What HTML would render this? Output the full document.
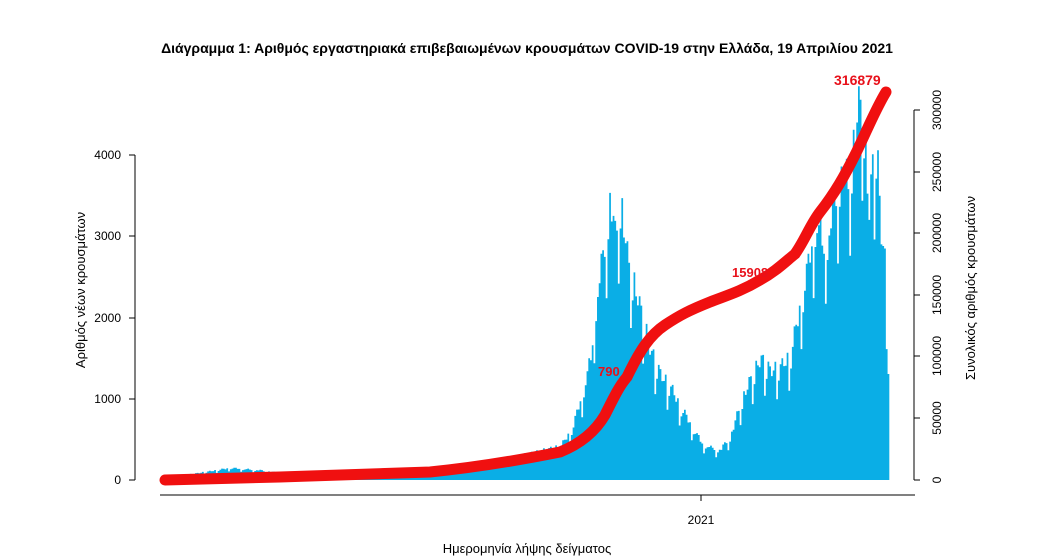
<!DOCTYPE html>
<html><head><meta charset="utf-8"><style>
body{margin:0;background:#fff;width:1054px;height:558px;overflow:hidden}
svg{display:block;font-family:"Liberation Sans","DejaVu Sans",sans-serif}
</style></head><body>
<svg id="s" width="1054" height="558" viewBox="0 0 1054 558">
<text x="527" y="53" text-anchor="middle" font-size="14" font-weight="bold">Διάγραμμα 1: Αριθμός εργαστηριακά επιβεβαιωμένων κρουσμάτων COVID-19 στην Ελλάδα, 19 Απριλίου 2021</text>
<g id="bars"></g>
<g id="line"></g>
<g stroke="#000" stroke-width="1" fill="none">
<path d="M135,155V480 M129,155H135 M129,236H135 M129,318H135 M129,399H135 M129,480H135"/>
<path d="M160,495H915 M701,495V501"/>
<path d="M914,110V480 M914,110H920 M914,172H920 M914,233H920 M914,295H920 M914,356H920 M914,418H920 M914,480H920"/>
</g>
<g font-size="12" text-anchor="end">
<text x="121" y="159">4000</text><text x="121" y="240">3000</text><text x="121" y="322">2000</text><text x="121" y="403">1000</text><text x="121" y="484">0</text>
</g>
<text x="701" y="524" font-size="12" text-anchor="middle">2021</text>
<g font-size="12" text-anchor="middle">
<text transform="translate(941,110) rotate(-90)">300000</text>
<text transform="translate(941,172) rotate(-90)">250000</text>
<text transform="translate(941,233) rotate(-90)">200000</text>
<text transform="translate(941,295) rotate(-90)">150000</text>
<text transform="translate(941,356) rotate(-90)">100000</text>
<text transform="translate(941,418) rotate(-90)">50000</text>
<text transform="translate(941,480) rotate(-90)">0</text>
</g>
<text transform="translate(975,288) rotate(-90)" font-size="13" text-anchor="middle">Συνολικός αριθμός κρουσμάτων</text>
<text transform="translate(85,290) rotate(-90)" font-size="13" text-anchor="middle">Αριθμός νέων κρουσμάτων</text>
<text x="527" y="553" font-size="13" text-anchor="middle">Ημερομηνία λήψης δείγματος</text>
<g fill="#e8101a" font-weight="bold">
<text x="834" y="85" font-size="14">316879</text>
<text x="732" y="277" font-size="13">15908</text>
<text x="598" y="376" font-size="13">790</text>
</g>
</svg>
<script>
var K=[[162,20],[200,90],[230,150],[260,120],[300,50],[360,40],[420,60],[440,120],[480,200],[520,300],[560,420],[572,650],[582,1100],[590,1500],[595,2200],[600,2600],[605,3000],[609,3600],[614,3000],[620,3550],[626,2800],[632,2500],[640,2100],[650,1600],[660,1300],[670,1150],[680,900],[690,700],[700,480],[710,400],[720,380],[730,550],[740,950],[750,1250],[760,1500],[770,1350],[780,1400],[790,1550],[800,2200],[808,2700],[815,3300],[822,2900],[830,3200],[840,3900],[848,3700],[855,4400],[862,4800],[868,3300],[875,4300],[881,3000],[885,2600],[888,1300]];
function f(x){for(var i=0;i<K.length-1;i++){if(x<=K[i+1][0]){var t=(x-K[i][0])/(K[i+1][0]-K[i][0]);return K[i][1]+t*(K[i+1][1]-K[i][1]);}}return K[K.length-1][1];}
var ns="http://www.w3.org/2000/svg",d="M162,480",w=1.74,n=418;
for(var i=0;i<n;i++){var x=162+i*w,v=f(x);var dow=i%7;var fac=dow==3?0.72:(dow==4?0.88:(1+0.06*Math.sin(i*1.7)));v*=fac;var y=480-v*0.0813;d+="L"+x.toFixed(2)+","+y.toFixed(1)+"L"+(x+w).toFixed(2)+","+y.toFixed(1);}
d+="L"+(162+n*w).toFixed(2)+",480Z";
var p=document.createElementNS(ns,"path");p.setAttribute("d",d);p.setAttribute("fill","#0aaee6");document.getElementById("bars").appendChild(p);
var L=document.createElementNS(ns,"path");
L.setAttribute("d","M165,480 C250,478 350,475 430,472 C480,467 530,458 560,452 C580,444 595,432 605,415 C615,395 620,385 627,377 C640,350 650,335 665,325 C680,315 690,310 710,302 C725,296 740,292 760,280 C775,272 785,262 795,254 C805,240 810,225 820,212 C835,193 845,175 855,155 C865,135 875,110 886,92");
L.setAttribute("stroke","#f01010");L.setAttribute("stroke-width","11");L.setAttribute("fill","none");L.setAttribute("stroke-linecap","round");
document.getElementById("line").appendChild(L);
</script>
</body></html>
